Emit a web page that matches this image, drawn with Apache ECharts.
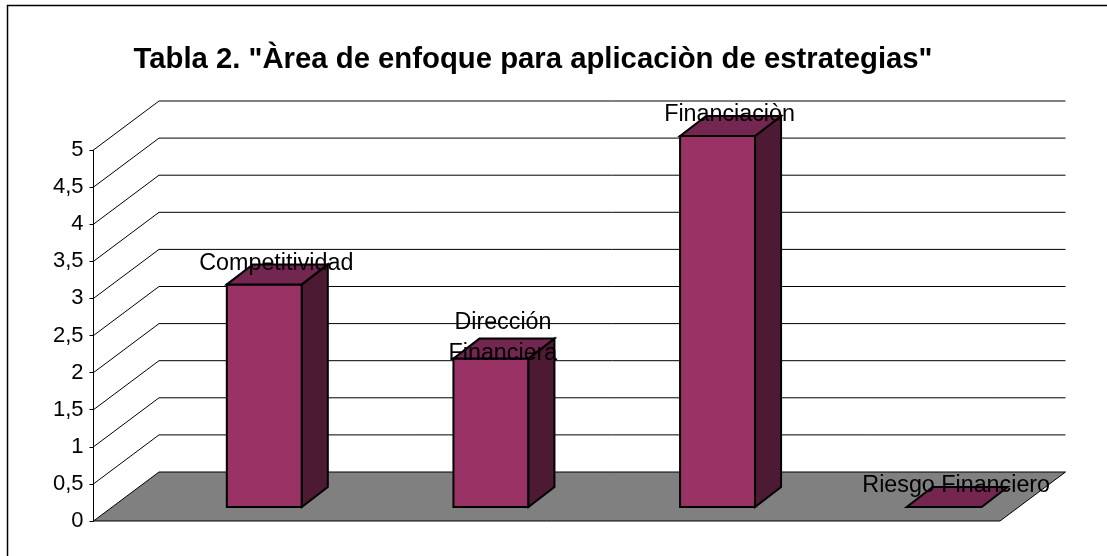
<!DOCTYPE html>
<html>
<head>
<meta charset="utf-8">
<style>
html, body { margin: 0; padding: 0; background: #fff; }
#chart { width: 1107px; height: 556px; }
</style>
<script src="https://cdn.jsdelivr.net/npm/echarts@6/dist/echarts.min.js"></script>
</head>
<body>
<div id="chart"></div>
<script>
let titleText = 'Tabla 2. "Àrea de enfoque para aplicaciòn de estrategias"';
let categories = ['Competitividad', 'Dirección\nFinanciera', 'Financiaciòn', 'Riesgo Financiero'];
let values = [3, 2, 5, 0];
let yTicks = [0, 0.5, 1, 1.5, 2, 2.5, 3, 3.5, 4, 4.5, 5];

let fontName = '"Liberation Sans", Arial, sans-serif';
// profundidad del suelo y de las barras (px)
let floorDx = 65.5, floorDy = -49;
let barDx = 26, barDy = -20;
let barShiftX = 57.5, barShiftY = -14;
let barWidth = 75;

let chart = echarts.init(document.getElementById('chart'), null, { renderer: 'canvas' });

function floorItem(params, api) {
    let g = params.coordSys;
    let l = g.x, r = g.x + g.width, b = g.y + g.height;
    return {
        type: 'polygon',
        shape: { points: [[l, b], [l + floorDx, b + floorDy], [r + floorDx, b + floorDy], [r, b]] },
        style: { fill: '#808080', stroke: '#000', lineWidth: 1 }
    };
}

function gridItem(params, api) {
    let g = params.coordSys;
    let l = g.x, r = g.x + g.width;
    let y = api.coord([0, api.value(0)])[1];
    return {
        type: 'polyline',
        shape: { points: [[l, y], [l + floorDx, y + floorDy], [r + floorDx, y + floorDy]] },
        style: { fill: null, stroke: '#000', lineWidth: 1 }
    };
}

function barItem(params, api) {
    let top = api.coord([api.value(0), api.value(1)]);
    let base = api.coord([api.value(0), 0]);
    let x0 = top[0] + barShiftX - barWidth / 2, x1 = x0 + barWidth;
    let y0 = top[1] + barShiftY, y1 = base[1] + barShiftY;
    let line = { stroke: '#000', lineWidth: 2, lineJoin: 'miter' };
    let children = [];
    // una barra con valor 0 solo deja la cara superior
    if (y1 > y0) {
        children.push({
            type: 'polygon',
            shape: { points: [[x0, y0], [x1, y0], [x1, y1], [x0, y1]] },
            style: Object.assign({ fill: '#993366' }, line)
        });
        children.push({
            type: 'polygon',
            shape: { points: [[x1, y0], [x1 + barDx, y0 + barDy], [x1 + barDx, y1 + barDy], [x1, y1]] },
            style: Object.assign({ fill: '#4d1a33' }, line)
        });
    }
    children.push({
        type: 'polygon',
        shape: { points: [[x0, y0], [x0 + barDx, y0 + barDy], [x1 + barDx, y0 + barDy], [x1, y0]] },
        style: Object.assign({ fill: '#732650' }, line)
    });
    return { type: 'group', children: children };
}

function labelItem(params, api) {
    let top = api.coord([api.value(0), api.value(1)]);
    let idx = params.dataIndex;
    return {
        type: 'text',
        x: top[0] + barShiftX + barDx / 2 - 1,
        y: top[1] + barShiftY - 21,
        style: {
            text: categories[idx],
            fill: '#000',
            font: '23.3px ' + fontName,
            lineHeight: 31,
            align: 'center',
            verticalAlign: 'middle'
        }
    };
}

chart.setOption({
    animation: false,
    backgroundColor: '#fff',
    title: {
        text: titleText,
        left: 528,
        top: 54.5,
        textAlign: 'center',
        textVerticalAlign: 'middle',
        textStyle: { fontFamily: fontName, fontSize: 29.3, fontWeight: 'bold', color: '#000' }
    },
    graphic: [{
        type: 'polyline',
        silent: true,
        z: -1,
        shape: { points: [[7.5, 556], [7.5, 5.5], [1107, 5.5]] },
        style: { fill: null, stroke: '#000', lineWidth: 1.5 }
    }],
    grid: { left: 93.5, top: 150, width: 906.5, height: 371 },
    xAxis: {
        type: 'category',
        data: categories,
        axisLine: { show: false },
        axisTick: { show: false },
        axisLabel: { show: false }
    },
    yAxis: {
        type: 'value',
        min: 0,
        max: 5,
        interval: 0.5,
        splitLine: { show: false },
        axisLine: { show: true, lineStyle: { color: '#000', width: 1 } },
        axisTick: { show: true, length: 4, lineStyle: { color: '#000', width: 1 } },
        axisLabel: {
            margin: 10,
            padding: [2, 0, 0, 0],
            color: '#000',
            fontFamily: fontName,
            fontSize: 22,
            formatter: v => String(v).replace('.', ',')
        }
    },
    series: [
        { type: 'custom', z: 1, coordinateSystem: 'cartesian2d', renderItem: floorItem, data: [[0, 0]] },
        { type: 'custom', z: 2, coordinateSystem: 'cartesian2d', renderItem: gridItem,
            encode: { y: 0 }, data: yTicks.slice(1).map(v => [v]) },
        { type: 'custom', z: 3, coordinateSystem: 'cartesian2d', renderItem: barItem,
            encode: { x: 0, y: 1 }, data: values.map((v, i) => [i, v]) },
        { type: 'custom', z: 4, coordinateSystem: 'cartesian2d', renderItem: labelItem,
            encode: { x: 0, y: 1 }, data: values.map((v, i) => [i, v]) }
    ]
});
</script>
</body>
</html>
